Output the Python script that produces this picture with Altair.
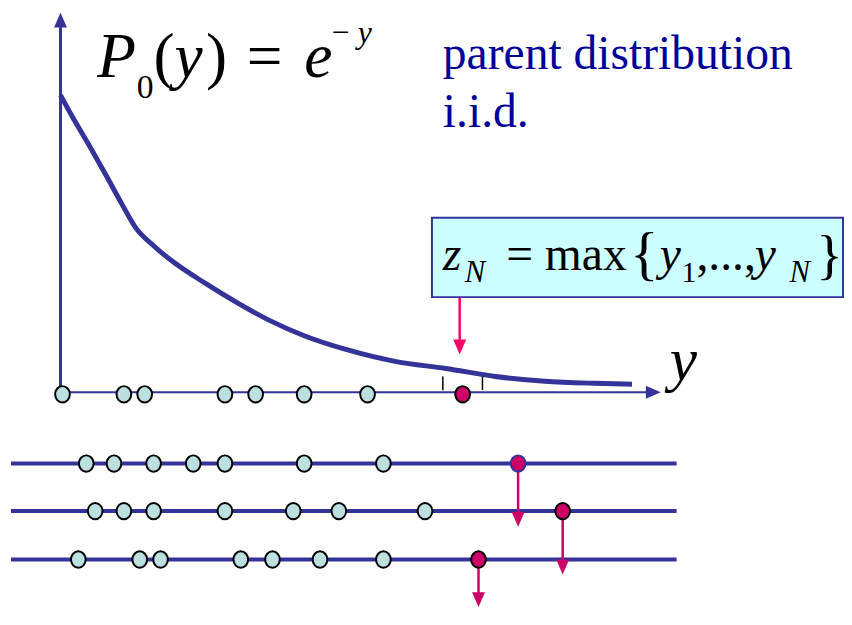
import altair as alt
import pandas as pd

# ---------------- data ----------------
# horizontal unit: sample value y ; vertical unit: density P0(y)
curve_y = [0, 0.12, 0.29, 0.46, 0.62, 0.76, 0.94, 1.12, 1.46, 1.79, 2.12, 2.46,
           2.89, 3.39, 3.89, 4.39, 4.89, 5.39, 5.77]
curve_p = [1.0, 0.927, 0.83, 0.73, 0.633, 0.553, 0.493, 0.443, 0.367, 0.30, 0.24,
           0.19, 0.143, 0.103, 0.08, 0.053, 0.037, 0.03, 0.027]

axis_samples = [0.02, 0.64, 0.85, 1.66, 1.97, 2.46, 3.10]
axis_max = [4.06]
window_edges = [3.86, 4.26]

row_levels = [-0.24, -0.40, -0.563]
row_samples = [
    [0.26, 0.54, 0.94, 1.34, 1.66, 2.46, 3.26],
    [0.35, 0.64, 0.94, 1.66, 2.35, 2.81, 3.68],
    [0.18, 0.80, 1.01, 1.82, 2.14, 2.62, 3.26],
]
row_max = [4.62, 5.07, 4.22]
row_drop = [-0.453, -0.613, -0.723]

y_axis_top = 1.277
x_axis_end = 6.06
row_start, row_end = -0.50, 6.22
box_left, box_right, box_top, box_bottom = 3.75, 7.90, 0.587, 0.32
box_arrow_x, box_arrow_from, box_arrow_to = 4.03, 0.317, 0.127

# ---------------- styling ----------------
BLUE = "#333399"
RED = "#CC0066"
PINK = "#FF0066"
TEAL = "#BCDFDF"
W, H = 844, 605
xs = alt.Scale(domain=[-0.53, 7.91], nice=False, zero=False)
ys = alt.Scale(domain=[-0.7333, 1.2833], nice=False, zero=False)

ELLIPSE = "M-0.9,0 A0.9,1 0 1,0 0.9,0 A0.9,1 0 1,0 -0.9,0 Z"
HEAD_DOWN = "M0,0 L-0.87,-2 L0.87,-2 Z"
HEAD_UP = "M0,0 L-0.87,2 L0.87,2 Z"
HEAD_RIGHT = "M0,0 L-2,-0.87 L-2,0.87 Z"


def X(f="x"):
    return alt.X(f"{f}:Q", scale=xs, axis=None)


def Y(f="y"):
    return alt.Y(f"{f}:Q", scale=ys, axis=None)


layers = []

# box
box_df = pd.DataFrame({"x": [box_left], "x2": [box_right], "y": [box_top], "y2": [box_bottom]})
layers.append(alt.Chart(box_df).mark_rect(fill="#CCFFFF", stroke=BLUE, strokeWidth=2)
              .encode(x=X(), x2="x2:Q", y=Y(), y2="y2:Q"))

# row lines
rows_df = pd.DataFrame({"x": [row_start] * 3, "x2": [row_end] * 3, "y": row_levels})
layers.append(alt.Chart(rows_df).mark_rule(color=BLUE, strokeWidth=4)
              .encode(x=X(), x2="x2:Q", y=Y()))

# axes
vax = pd.DataFrame({"x": [0], "y": [0], "y2": [y_axis_top - 0.03]})
layers.append(alt.Chart(vax).mark_rule(color=BLUE, strokeWidth=3)
              .encode(x=X(), y=Y(), y2="y2:Q"))
hax = pd.DataFrame({"x": [0], "x2": [x_axis_end - 0.08], "y": [0]})
layers.append(alt.Chart(hax).mark_rule(color=BLUE, strokeWidth=2)
              .encode(x=X(), x2="x2:Q", y=Y()))
layers.append(alt.Chart(pd.DataFrame({"x": [0], "y": [y_axis_top]}))
              .mark_point(shape=HEAD_UP, size=225, filled=True, color=BLUE, opacity=1)
              .encode(x=X(), y=Y()))
layers.append(alt.Chart(pd.DataFrame({"x": [x_axis_end], "y": [0]}))
              .mark_point(shape=HEAD_RIGHT, size=225, filled=True, color=BLUE, opacity=1)
              .encode(x=X(), y=Y()))

# curve
curve_df = pd.DataFrame({"x": curve_y, "y": curve_p})
layers.append(alt.Chart(curve_df).mark_line(color=BLUE, strokeWidth=5, interpolate="monotone")
              .encode(x=X(), y=Y()))

# window ticks
tick_df = pd.DataFrame({"x": window_edges, "y": [0.053, 0.053], "y2": [0.007, 0.007]})
layers.append(alt.Chart(tick_df).mark_rule(color="black", strokeWidth=1.5)
              .encode(x=X(), y=Y(), y2="y2:Q"))

# box arrow
ba = pd.DataFrame({"x": [box_arrow_x], "y": [box_arrow_from], "y2": [box_arrow_to + 0.03]})
layers.append(alt.Chart(ba).mark_rule(color=PINK, strokeWidth=2.5)
              .encode(x=X(), y=Y(), y2="y2:Q"))
layers.append(alt.Chart(pd.DataFrame({"x": [box_arrow_x], "y": [box_arrow_to]}))
              .mark_point(shape=HEAD_DOWN, size=225, filled=True, color=PINK, opacity=1)
              .encode(x=X(), y=Y()))

# row arrows
ra = pd.DataFrame({"x": row_max, "y": row_levels, "y2": [d + 0.03 for d in row_drop]})
layers.append(alt.Chart(ra).mark_rule(color=RED, strokeWidth=2.5)
              .encode(x=X(), y=Y(), y2="y2:Q"))
layers.append(alt.Chart(pd.DataFrame({"x": row_max, "y": row_drop}))
              .mark_point(shape=HEAD_DOWN, size=225, filled=True, color=RED, opacity=1)
              .encode(x=X(), y=Y()))

# sample circles
samp_x, samp_y = list(axis_samples), [-0.007] * len(axis_samples)
for lvl, vals in zip(row_levels, row_samples):
    samp_x += vals
    samp_y += [lvl] * len(vals)
samp_df = pd.DataFrame({"x": samp_x, "y": samp_y})
layers.append(alt.Chart(samp_df).mark_point(shape=ELLIPSE, size=272, filled=True, fill=TEAL,
                                             stroke="black", strokeWidth=2, opacity=1)
              .encode(x=X(), y=Y()))

# maxima
max_df = pd.DataFrame({"x": axis_max + row_max[1:], "y": [-0.007] + row_levels[1:]})
layers.append(alt.Chart(max_df).mark_point(shape=ELLIPSE, size=272, filled=True, fill=RED,
                                            stroke="black", strokeWidth=2, opacity=1)
              .encode(x=X(), y=Y()))
max1_df = pd.DataFrame({"x": [row_max[0]], "y": [row_levels[0]]})
layers.append(alt.Chart(max1_df).mark_point(shape=ELLIPSE, size=272, filled=True, fill=RED,
                                             stroke=BLUE, strokeWidth=2, opacity=1)
              .encode(x=X(), y=Y()))

# ---------------- text ----------------
FONT = "Liberation Serif"
one = pd.DataFrame({"k": [0]})


def txt(s, px, py, size, italic=False, color="black"):
    kw = dict(text=s, x=px - 8, y=py - 8, fontSize=size, font=FONT, align="left",
              baseline="alphabetic", color=color)
    if italic:
        kw["fontStyle"] = "italic"
    return alt.Chart(one).mark_text(**kw).encode(opacity=alt.value(1))


layers += [
    # P0(y) = e^{-y}
    txt("P", 98, 75, 64, True),
    txt("0", 138, 96, 34),
    txt("(", 155, 75, 64),
    txt("y", 176, 75, 64, True),
    txt(")", 208, 75, 64),
    txt("=", 249, 75, 64),
    txt("e", 307, 75, 64, True),
    txt("\u2212", 335, 40, 32),
    txt("y", 361, 40, 32, True),
    # caption
    txt("parent distribution", 447, 67, 48, color="#000099"),
    txt("i.i.d.", 447, 125, 48, color="#000099"),
    # z_N = max{y_1,...,y_N}
    txt("z", 447, 270, 48, True),
    txt("N", 469, 282, 31, True),
    txt("=", 511, 270, 48),
    txt("max", 550, 270, 48),
    txt("{", 636, 273, 60),
    txt("y", 666, 270, 48, True),
    txt("1", 688, 282, 30),
    txt(",...,", 703, 270, 48),
    txt("y", 762, 270, 48, True),
    txt("N", 797, 282, 31, True),
    txt("}", 824, 273, 56),
    # axis label
    txt("y", 676, 381, 62, True),
]

chart = alt.layer(*layers).properties(
    width=W, height=H, padding=0, autosize="none"
).configure_view(stroke=None)

chart.save("out.html", embed_options={"renderer": "svg", "actions": False})
